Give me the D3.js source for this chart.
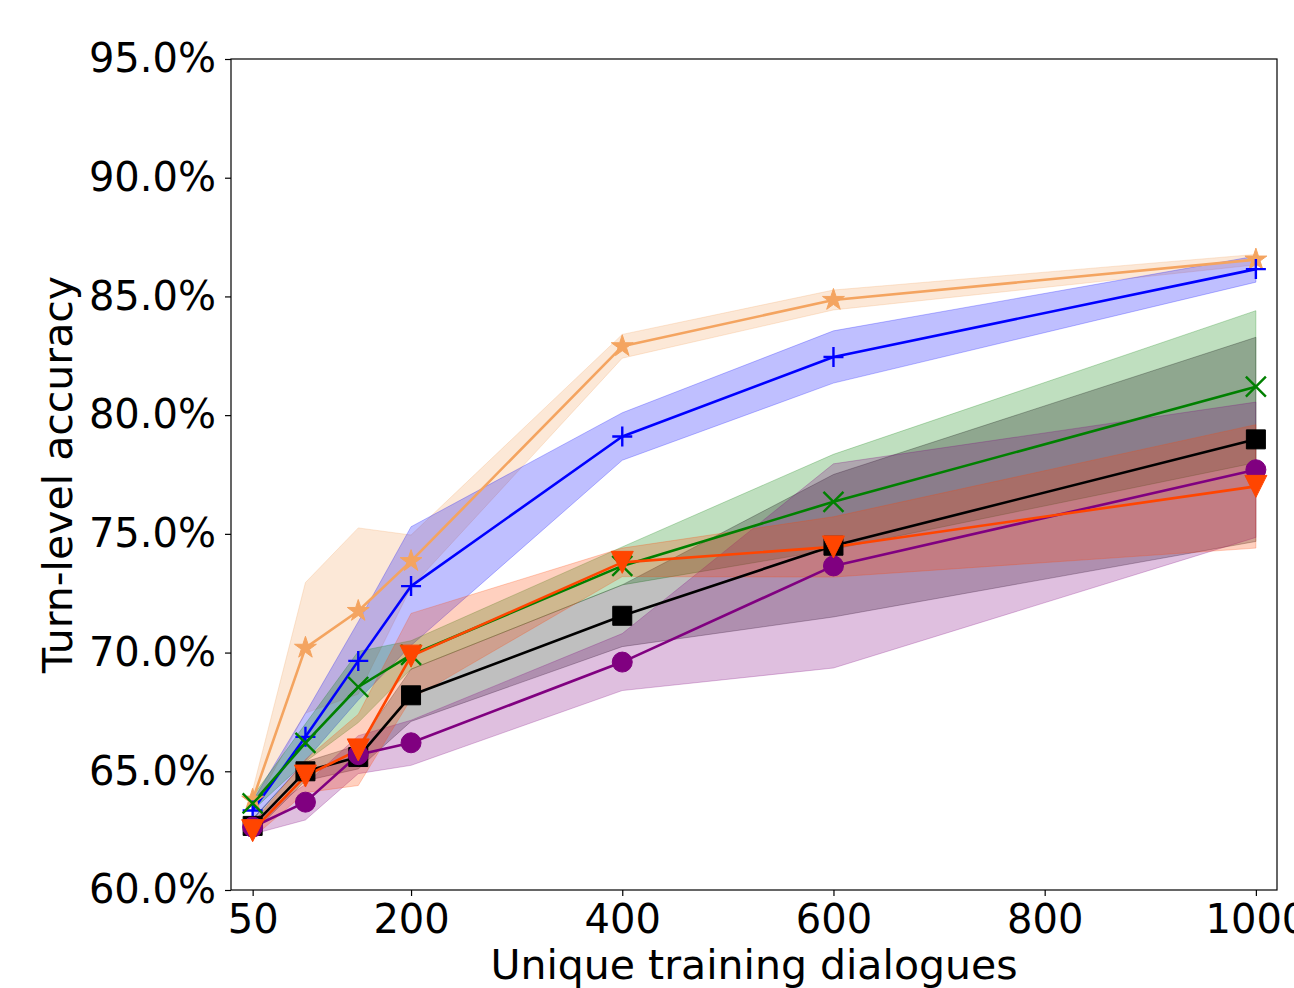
<!DOCTYPE html>
<html><head><meta charset="utf-8">
<script src="https://cdn.jsdelivr.net/npm/d3@7"></script>
<style>body{margin:0;background:#fff;overflow:hidden} text{font-family:"DejaVu Sans",sans-serif}</style>
</head><body><svg id="c" width="1294" height="988"></svg>
<script>
// ---- data ----
const xValues = [50, 100, 150, 200, 400, 600, 1000];
const xTicks = [50, 200, 400, 600, 800, 1000];
const yTicks = [60, 65, 70, 75, 80, 85, 90, 95];

const starMean = [63.8, 70.2, 71.75, 73.85, 82.9, 84.85, 86.55];
const starStd  = [0.4, 2.75, 3.5, 1.1, 0.5, 0.42, 0.22];
const plusMean = [63.35, 66.45, 69.65, 72.8, 79.1, 82.45, 86.15];
const plusStd  = [0.4, 1.0, 1.65, 2.5, 1.0, 1.1, 0.55];
const crossMean = [63.65, 66.2, 68.55, 69.9, 73.65, 76.35, 81.2];
const crossStd  = [0.3, 0.8, 1.5, 0.6, 0.8, 2.0, 3.2];
const squareMean = [62.7, 65.0, 65.6, 68.2, 71.55, 74.5, 78.98];
const squareStd  = [0.3, 0.4, 0.5, 1.1, 1.3, 3.0, 4.3];
const circleMean = [62.65, 63.7, 65.7, 66.2, 69.6, 73.65, 77.7];
const circleStd  = [0.3, 0.75, 0.8, 0.95, 1.2, 4.3, 2.85];
const triMean = [62.5, 64.8, 65.9, 69.85, 73.8, 74.45, 77.0];
const triStd  = [0.3, 0.7, 1.5, 1.8, 0.6, 1.27, 2.6];

const series = [
  {marker: 'star',   color: '#F4A460', mean: starMean,   std: starStd},
  {marker: 'plus',   color: '#0000FF', mean: plusMean,   std: plusStd},
  {marker: 'x',      color: '#008000', mean: crossMean,  std: crossStd},
  {marker: 'square', color: '#000000', mean: squareMean, std: squareStd},
  {marker: 'circle', color: '#800080', mean: circleMean, std: circleStd},
  {marker: 'tri',    color: '#FF4500', mean: triMean,    std: triStd}
];

// ---- layout ----
const L = 231, R = 1277, T = 59, B = 890;
const svg = d3.select('#c');
svg.append('rect').attr('width', 1294).attr('height', 988).attr('fill', '#fff');
const x = d3.scaleLinear().domain([29.5, 1020]).range([L, R]);
const y = d3.scaleLinear().domain([60, 95]).range([B, T]);

svg.append('clipPath').attr('id', 'clip').append('rect')
  .attr('x', L).attr('y', T).attr('width', R - L).attr('height', B - T);
const plot = svg.append('g').attr('clip-path', 'url(#clip)');

// bands
series.forEach(s => {
  const area = d3.area()
    .x(i => x(xValues[i]))
    .y0(i => y(s.mean[i] - s.std[i]))
    .y1(i => y(s.mean[i] + s.std[i]));
  plot.append('path').attr('d', area(d3.range(xValues.length)))
    .attr('fill', s.color).attr('fill-opacity', 0.25)
    .attr('stroke', s.color).attr('stroke-opacity', 0.25).attr('stroke-width', 1);
});

// lines + markers
function markerPath(type, cx, cy) {
  const p = d3.path();
  if (type === 'star') {
    const ro = 11.5, ri = ro * 0.382;
    for (let k = 0; k < 10; k++) {
      const r = k % 2 === 0 ? ro : ri;
      const a = -Math.PI / 2 + k * Math.PI / 5;
      const px = cx + r * Math.cos(a), py = cy + r * Math.sin(a);
      k === 0 ? p.moveTo(px, py) : p.lineTo(px, py);
    }
    p.closePath();
  } else if (type === 'plus') {
    const h = 10;
    p.moveTo(cx - h, cy); p.lineTo(cx + h, cy);
    p.moveTo(cx, cy - h); p.lineTo(cx, cy + h);
  } else if (type === 'x') {
    const h = 10;
    p.moveTo(cx - h, cy - h); p.lineTo(cx + h, cy + h);
    p.moveTo(cx - h, cy + h); p.lineTo(cx + h, cy - h);
  } else if (type === 'square') {
    const h = 9.5;
    p.rect(cx - h, cy - h, 2 * h, 2 * h);
  } else if (type === 'circle') {
    p.arc(cx, cy, 10, 0, 2 * Math.PI);
  } else if (type === 'tri') {
    const h = 11;
    p.moveTo(cx - h, cy - h); p.lineTo(cx + h, cy - h); p.lineTo(cx, cy + h); p.closePath();
  }
  return p.toString();
}

series.forEach(s => {
  const line = d3.line().x(i => x(xValues[i])).y(i => y(s.mean[i]));
  const idx = d3.range(xValues.length);
  plot.append('path').attr('d', line(idx)).attr('fill', 'none')
    .attr('stroke', s.color).attr('stroke-width', 2.6).attr('stroke-linejoin', 'round');
  const stroked = (s.marker === 'plus' || s.marker === 'x');
  svg.append('g').selectAll('path').data(idx).join('path')
    .attr('d', i => markerPath(s.marker, x(xValues[i]), y(s.mean[i])))
    .attr('fill', stroked ? 'none' : s.color)
    .attr('stroke', s.color)
    .attr('stroke-width', stroked ? 2.4 : 1);
});

// axes
const fs = 40;
const yAxis = svg.append('g').attr('transform', `translate(${L},0)`)
  .call(d3.axisLeft(y).tickValues(yTicks).tickFormat(d => d.toFixed(1) + '%').tickSize(6).tickPadding(9));
const xAxis = svg.append('g').attr('transform', `translate(0,${B})`)
  .call(d3.axisBottom(x).tickValues(xTicks).tickFormat(d3.format('d')).tickSize(6).tickPadding(9));
[yAxis, xAxis].forEach(g => {
  g.select('.domain').remove();
  g.selectAll('line').attr('stroke', '#000').attr('stroke-width', 1.2);
  g.selectAll('text').attr('font-size', fs).attr('font-family', '"DejaVu Sans", sans-serif').attr('fill', '#000');
});

svg.append('rect').attr('x', L).attr('y', T).attr('width', R - L).attr('height', B - T)
  .attr('fill', 'none').attr('stroke', '#000').attr('stroke-width', 1.2);

svg.append('text').attr('x', (L + R) / 2).attr('y', 979).attr('text-anchor', 'middle')
  .attr('font-size', 41).text('Unique training dialogues');
svg.append('text').attr('transform', `translate(72,${(T + B) / 2}) rotate(-90)`)
  .attr('text-anchor', 'middle').attr('font-size', 41).text('Turn-level accuracy');
</script></body></html>
